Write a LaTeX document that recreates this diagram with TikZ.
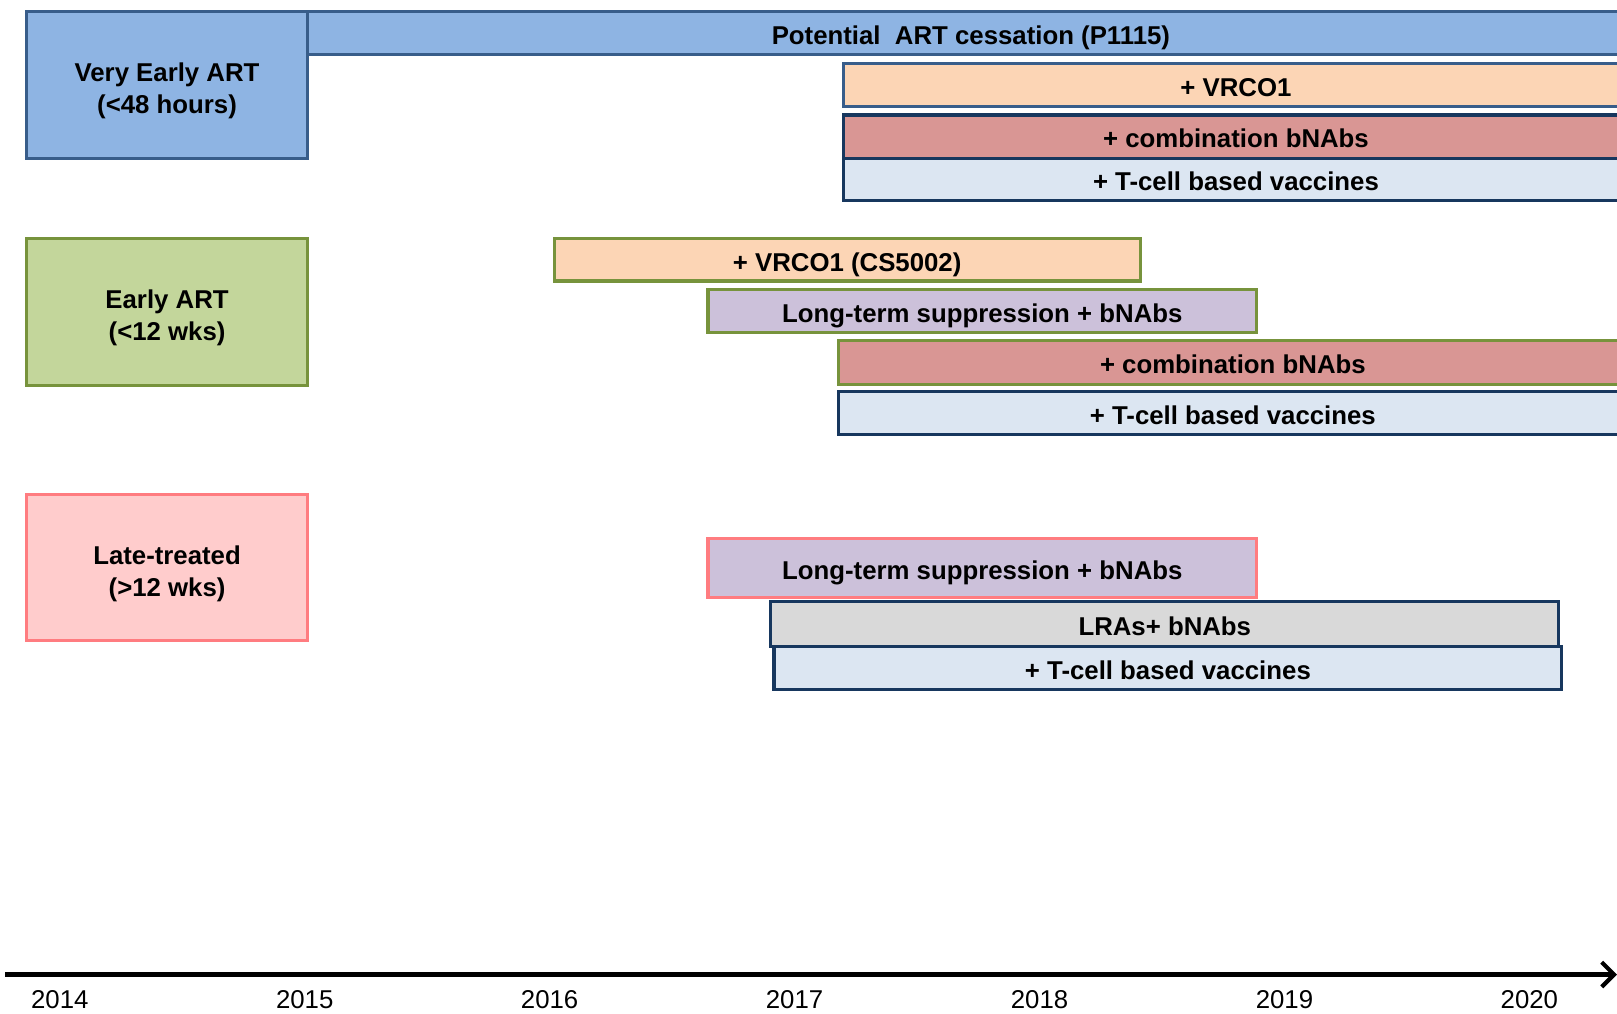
\documentclass[tikz,border=0pt]{standalone}
\usepackage{fontspec}
\setmainfont{Liberation Sans}
\usetikzlibrary{arrows.meta}
\definecolor{artblue}{RGB}{142,180,227}
\definecolor{blueline}{RGB}{56,93,138}
\definecolor{navyline}{RGB}{23,55,94}
\definecolor{peach}{RGB}{252,213,181}
\definecolor{combred}{RGB}{217,150,148}
\definecolor{paleblue}{RGB}{220,230,242}
\definecolor{earlygreen}{RGB}{195,214,155}
\definecolor{greenline}{RGB}{119,147,60}
\definecolor{lavender}{RGB}{204,193,218}
\definecolor{latepink}{RGB}{255,204,204}
\definecolor{pinkline}{RGB}{255,124,128}
\definecolor{lragray}{RGB}{217,217,217}
\newcommand{\grouptop}{\rule{0pt}{15pt}}

\begin{document}
\begin{tikzpicture}[x=0.5pt, y=-0.5pt,
  group/.style={draw, line width=1.5pt, anchor=north west, align=center, inner sep=0pt,
    minimum width=136.5pt, minimum height=71pt, font=\fontsize{12.5}{15.5}\selectfont\bfseries},
  bar/.style={draw, line width=1.5pt, anchor=north west, inner sep=0pt, minimum height=21pt,
    text height=11.5pt, text depth=0.5pt, font=\fontsize{12.5}{15}\selectfont\bfseries},
  axis/.style={-{Straight Barb[length=6pt, width=12pt]}, line width=2pt},
  year/.style={font=\fontsize{12.5}{15}\selectfont}
]
  \useasboundingbox (0,0) rectangle (1568,983);

  % Very early ART
  \node[group, fill=artblue, draw=blueline] (vearly) at (24,10) {\grouptop Very Early ART\\(<48 hours)};
  \node[bar, fill=artblue, draw=blueline, minimum width=643pt, minimum height=20.5pt] (cessation) at (297,10) {Potential\ \ ART cessation (P1115)};
  \node[bar, fill=peach, draw=blueline, minimum width=381pt] (vrcoA) at (816,60) {+ VRCO1};
  \node[bar, fill=combred, draw=navyline, minimum width=381pt] (combA) at (816,110) {+ combination bNAbs};
  \node[bar, fill=paleblue, draw=navyline, minimum width=381pt, minimum height=20.5pt] (tcellA) at (816,152) {+ T-cell based vaccines};

  % Early ART
  \node[group, fill=earlygreen, draw=greenline] (early) at (24,230) {\grouptop Early ART\\(<12 wks)};
  \node[bar, fill=peach, draw=greenline, minimum width=284pt, minimum height=20.5pt] (vrcoB) at (536,230) {+ VRCO1 (CS5002)};
  \node[bar, fill=lavender, draw=greenline, minimum width=266pt] (ltsB) at (685,279) {Long-term suppression + bNAbs};
  \node[bar, fill=combred, draw=greenline, minimum width=382pt] (combB) at (812,329) {+ combination bNAbs};
  \node[bar, fill=paleblue, draw=navyline, minimum width=382pt] (tcellB) at (812,378) {+ T-cell based vaccines};

  % Late-treated
  \node[group, fill=latepink, draw=pinkline] (late) at (24,478) {\grouptop Late-treated\\(>12 wks)};
  \node[bar, fill=lavender, draw=pinkline, minimum width=266pt, minimum height=28.5pt] (ltsC) at (685,521) {Long-term suppression + bNAbs};
  \node[bar, fill=lragray, draw=navyline, minimum width=382pt, minimum height=21.5pt] (lrasC) at (746,582) {LRAs+ bNAbs};
  \node[bar, fill=paleblue, draw=navyline, minimum width=382pt] (tcellC) at (749,625) {+ T-cell based vaccines};

  % Time axis
  \coordinate (tstart) at (5,945);
  \coordinate (tend) at (1568,945);
  \draw[axis] (tstart) -- (tend);
  \foreach \yr [count=\i from 0] in {2014,...,2020}
    \node[year] (y\yr) at ({58+237.5*\i},969) {\yr};
\end{tikzpicture}
\end{document}
